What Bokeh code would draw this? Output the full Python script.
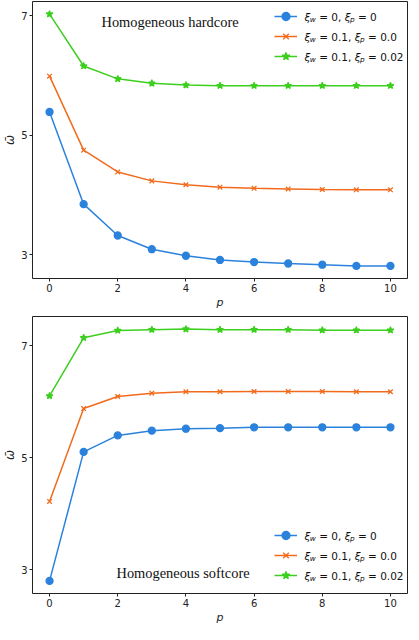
from bokeh.plotting import figure
from bokeh.models import Range1d, FixedTicker, Legend, LegendItem, Label
from bokeh.layouts import column
from bokeh.embed import file_html
from bokeh.resources import INLINE

# ---------------- data ----------------
p_vals = [0, 1, 2, 3, 4, 5, 6, 7, 8, 9, 10]

hard_a = [5.39, 3.845, 3.32, 3.09, 2.98, 2.91, 2.875, 2.85, 2.83, 2.81, 2.81]
hard_b = [5.99, 4.75, 4.385, 4.235, 4.17, 4.13, 4.11, 4.10, 4.09, 4.085, 4.085]
hard_c = [7.03, 6.16, 5.945, 5.87, 5.84, 5.83, 5.83, 5.83, 5.83, 5.83, 5.83]

soft_a = [2.80, 5.105, 5.40, 5.485, 5.52, 5.53, 5.545, 5.545, 5.545, 5.545, 5.545]
soft_b = [4.22, 5.88, 6.095, 6.155, 6.18, 6.18, 6.185, 6.185, 6.185, 6.18, 6.18]
soft_c = [6.105, 7.145, 7.275, 7.29, 7.30, 7.29, 7.29, 7.29, 7.28, 7.28, 7.28]

x_ticks = [0, 2, 4, 6, 8, 10]
y_ticks = [3, 5, 7]

legend_rows = [
    ("0", "0"),
    ("0.1", "0.0"),
    ("0.1", "0.02"),
]

titles = ["Homogeneous hardcore", "Homogeneous softcore"]

colors = ["#2b82dc", "#f26a1c", "#3ccf1e"]
markers = ["circle", "x", "star"]
marker_sizes = [7, 6.5, 7]

FW, FH = 375, 277
FONT = "DejaVu Sans"
MAIN, SUB = 10.5, 7.3

# approximate DejaVu Sans advance widths (em)
W = {"0": 0.636, "1": 0.636, "2": 0.636, ".": 0.318, ",": 0.318, " ": 0.318,
     "=": 0.838, "ξ": 0.51, "w": 0.818, "p": 0.635}


def tw(s, size):
    return sum(W.get(c, 0.6) for c in s) * size


def padded(series):
    lo = min(min(s) for s in series)
    hi = max(max(s) for s in series)
    span = hi - lo
    return Range1d(lo - 0.05 * span, hi + 0.05 * span)


def make_fig(series, title, top_border, bottom_border, legend_bottom, legend_x,
             text_x, title_x, title_y):
    xr = Range1d(min(p_vals) - 0.05 * (max(p_vals) - min(p_vals)),
                 max(p_vals) + 0.05 * (max(p_vals) - min(p_vals)))
    fig = figure(frame_width=FW, frame_height=FH, x_range=xr, y_range=padded(series),
                 min_border_left=27, min_border_right=1,
                 min_border_top=top_border, min_border_bottom=bottom_border,
                 output_backend="svg", toolbar_location=None)
    fig.grid.visible = False
    fig.outline_line_color = "#222222"
    fig.outline_line_width = 1
    fig.background_fill_color = "white"
    fig.border_fill_color = "white"

    for ax in (fig.xaxis[0], fig.yaxis[0]):
        ax.axis_line_color = None
        ax.minor_tick_line_color = None
        ax.major_tick_in = 0
        ax.major_tick_out = 3
        ax.major_tick_line_color = "#222222"
        ax.major_label_text_font = FONT
        ax.major_label_text_font_size = "10px"
        ax.major_label_text_color = "#222222"
        ax.major_label_standoff = 2
        ax.axis_label_text_font = FONT
        ax.axis_label_text_font_size = "11px"
        ax.axis_label_text_font_style = "italic"
        ax.axis_label_text_color = "#222222"
        ax.axis_label_standoff = 1
    fig.yaxis[0].axis_label_text_font_size = "12px"
    fig.xaxis[0].ticker = FixedTicker(ticks=x_ticks)
    fig.yaxis[0].ticker = FixedTicker(ticks=y_ticks)
    fig.xaxis[0].axis_label = "p"
    fig.yaxis[0].axis_label = "ω\u0304"

    items = []
    for ys, c, m, ms in zip(series, colors, markers, marker_sizes):
        ln = fig.line(p_vals, ys, line_color=c, line_width=1.5)
        sc = fig.scatter(p_vals, ys, marker=m, size=ms, line_color=c,
                         fill_color=c, line_width=1.3)
        items.append(LegendItem(label=" ", renderers=[ln, sc]))

    legend = Legend(items=items, location=(legend_x, legend_bottom),
                    orientation="vertical", border_line_alpha=0,
                    background_fill_alpha=0, padding=0, spacing=0, margin=0,
                    glyph_width=23, glyph_height=20, label_height=20,
                    label_width=0, label_standoff=0,
                    label_text_font_size="1px")
    fig.add_layout(legend)

    # legend texts, built piecewise so that subscripts are real text
    for i, (vw, vp) in enumerate(legend_rows):
        yc = legend_bottom + 60 - 10 - 20 * i
        pieces = [("ξ", "main", "italic"), ("w", "sub", "italic"),
                  (" = " + vw + ",", "main", "normal"),
                  (" ξ", "main", "italic"), ("p", "sub", "italic"),
                  (" = " + vp, "main", "normal")]
        x = text_x
        for txt, kind, style in pieces:
            size = MAIN if kind == "main" else SUB
            stripped = txt.lstrip(" ")
            x += tw(txt[:len(txt) - len(stripped)], size)
            fig.add_layout(Label(x=x, y=yc - (2.6 if kind == "sub" else 0),
                                 x_units="screen", y_units="screen", text=stripped,
                                 text_font=FONT, text_font_size=f"{size}px",
                                 text_font_style=style, text_color="#111111",
                                 text_baseline="middle", text_align="left"))
            x += tw(stripped, size)

    fig.add_layout(Label(x=title_x, y=title_y, x_units="screen", y_units="screen",
                         text=title, text_font="Liberation Serif",
                         text_font_size="14.4px", text_color="#111111",
                         text_baseline="middle", text_align="left"))
    return fig


top = make_fig([hard_a, hard_b, hard_c], titles[0], 1, 34,
               FH - 5 - 60, 242, 272, 69, FH - 20)
bottom = make_fig([soft_a, soft_b, soft_c], titles[1], 4, 31,
                  8, 242, 272, 84, 21)

layout = column(top, bottom, spacing=0)

open("out.html", "w").write(file_html(layout, INLINE))
